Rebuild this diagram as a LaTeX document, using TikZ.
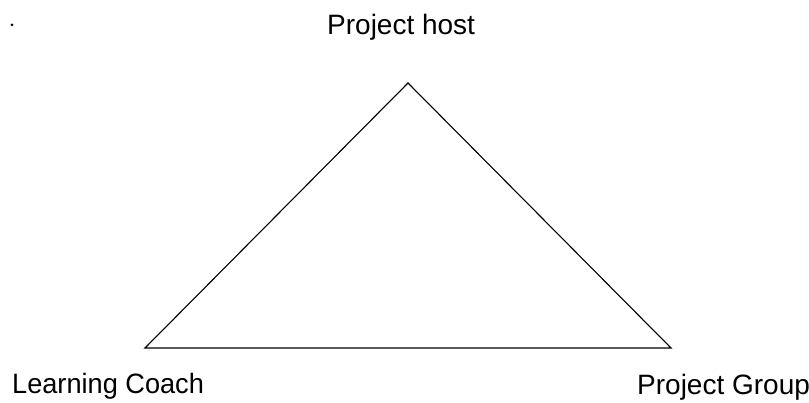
\documentclass[tikz,border=0pt]{standalone}
\usepackage{fontspec}
\setmainfont{Liberation Sans}
\begin{document}
\begin{tikzpicture}[x=1pt,y=-1pt,
  lbl/.style={inner sep=0pt, font=\fontsize{28}{32}\selectfont},
  edge/.style={line width=1.1pt, black}]
\useasboundingbox (0,0) rectangle (809,403);
\fill (12,25) circle (1.5);
\coordinate (host) at (408,83);
\coordinate (coach) at (145,348);
\coordinate (group) at (671,348);
\draw[edge, line join=miter] (coach) -- (host) -- (group) -- cycle;
\node[lbl, anchor=base west] (thost) at (327,35) {Project host};
\node[lbl, anchor=base west, xscale=0.97] (tcoach) at (12,394) {Learning Coach};
\node[lbl, anchor=base west] (tgroup) at (637,395) {Project Group};
\end{tikzpicture}
\end{document}
